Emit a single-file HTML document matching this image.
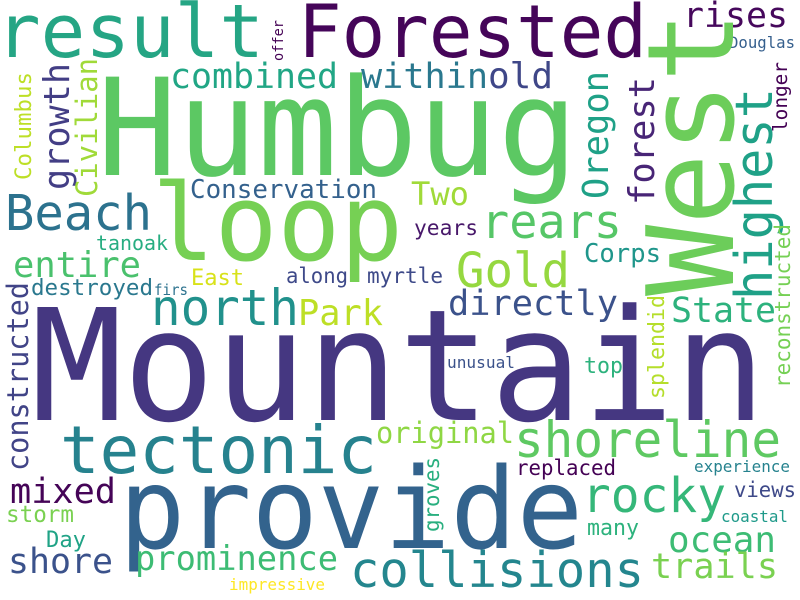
<!DOCTYPE html>
<html><head><meta charset="utf-8"><style>
html,body{margin:0;padding:0;background:#fff;}
svg{display:block;}
text{font-family:"DejaVu Sans Mono","Liberation Mono",monospace;}
</style></head><body>
<svg width="800" height="600" viewBox="0 0 800 600">
<rect width="800" height="600" fill="#fff"/>
<text x="-4" y="57" font-size="74" textLength="268" lengthAdjust="spacingAndGlyphs" fill="#25a584">result</text>
<text x="298" y="57" font-size="73" textLength="349" lengthAdjust="spacingAndGlyphs" fill="#450559">Forested</text>
<text x="97" y="175" font-size="135" textLength="481" lengthAdjust="spacingAndGlyphs" fill="#5cc863">Humbug</text>
<text x="152" y="260" font-size="106" textLength="251" lengthAdjust="spacingAndGlyphs" fill="#76d054">loop</text>
<text x="31" y="420" font-size="155" textLength="735" lengthAdjust="spacingAndGlyphs" fill="#453781">Mountain</text>
<text x="119" y="548" font-size="112" textLength="464" lengthAdjust="spacingAndGlyphs" fill="#33638d">provide</text>
<text x="60" y="473" font-size="66" textLength="317" lengthAdjust="spacingAndGlyphs" fill="#26828e">tectonic</text>
<text x="350" y="587" font-size="49" textLength="294" lengthAdjust="spacingAndGlyphs" fill="#24868e">collisions</text>
<text x="514" y="457" font-size="50" textLength="267" lengthAdjust="spacingAndGlyphs" fill="#5ec962">shoreline</text>
<text x="582" y="512" font-size="48" textLength="144" lengthAdjust="spacingAndGlyphs" fill="#35b779">rocky</text>
<text x="668" y="552" font-size="36" textLength="108" lengthAdjust="spacingAndGlyphs" fill="#3dbc74">ocean</text>
<text x="651" y="578" font-size="35" textLength="127" lengthAdjust="spacingAndGlyphs" fill="#7ad151">trails</text>
<text x="135" y="570" font-size="34" textLength="203" lengthAdjust="spacingAndGlyphs" fill="#3dbc74">prominence</text>
<text x="8" y="573" font-size="35" textLength="105" lengthAdjust="spacingAndGlyphs" fill="#3b528b">shore</text>
<text x="229" y="590" font-size="16" textLength="96" lengthAdjust="spacingAndGlyphs" fill="#fde725">impressive</text>
<text x="46" y="547" font-size="22" textLength="40" lengthAdjust="spacingAndGlyphs" fill="#20a386">Day</text>
<text x="6" y="522" font-size="23" textLength="68" lengthAdjust="spacingAndGlyphs" fill="#7ad151">storm</text>
<text x="10" y="503" font-size="35" textLength="106" lengthAdjust="spacingAndGlyphs" fill="#450457">mixed</text>
<text x="376" y="443" font-size="29" textLength="138" lengthAdjust="spacingAndGlyphs" fill="#8fd744">original</text>
<text x="516" y="475" font-size="21" textLength="100" lengthAdjust="spacingAndGlyphs" fill="#440154">replaced</text>
<text x="694" y="472" font-size="16" textLength="96" lengthAdjust="spacingAndGlyphs" fill="#26828e">experience</text>
<text x="734" y="497" font-size="21" textLength="62" lengthAdjust="spacingAndGlyphs" fill="#3e4989">views</text>
<text x="721" y="522" font-size="16" textLength="67" lengthAdjust="spacingAndGlyphs" fill="#1f9a8a">coastal</text>
<text x="587" y="535" font-size="22" textLength="52" lengthAdjust="spacingAndGlyphs" fill="#2db27d">many</text>
<text x="447" y="368" font-size="16" textLength="68" lengthAdjust="spacingAndGlyphs" fill="#3b528b">unusual</text>
<text x="584" y="373" font-size="22" textLength="39" lengthAdjust="spacingAndGlyphs" fill="#2db27d">top</text>
<text x="448" y="315" font-size="35" textLength="170" lengthAdjust="spacingAndGlyphs" fill="#3b528b">directly</text>
<text x="671" y="322" font-size="35" textLength="105" lengthAdjust="spacingAndGlyphs" fill="#2db27d">State</text>
<text x="151" y="325" font-size="50" textLength="148" lengthAdjust="spacingAndGlyphs" fill="#21918c">north</text>
<text x="298" y="325" font-size="36" textLength="85" lengthAdjust="spacingAndGlyphs" fill="#bddf26">Park</text>
<text x="5" y="230" font-size="49" textLength="147" lengthAdjust="spacingAndGlyphs" fill="#2c728e">Beach</text>
<text x="96" y="250" font-size="20" textLength="72" lengthAdjust="spacingAndGlyphs" fill="#27ad81">tanoak</text>
<text x="13" y="277" font-size="36" textLength="128" lengthAdjust="spacingAndGlyphs" fill="#4ac16d">entire</text>
<text x="191" y="285" font-size="22" textLength="53" lengthAdjust="spacingAndGlyphs" fill="#d8e219">East</text>
<text x="286" y="283" font-size="21" textLength="62" lengthAdjust="spacingAndGlyphs" fill="#3e4989">along</text>
<text x="367" y="283" font-size="21" textLength="76" lengthAdjust="spacingAndGlyphs" fill="#3e4a89">myrtle</text>
<text x="31" y="295" font-size="22.5" textLength="122" lengthAdjust="spacingAndGlyphs" fill="#2a788e">destroyed</text>
<text x="154" y="295" font-size="15" textLength="34" lengthAdjust="spacingAndGlyphs" fill="#2c728e">firs</text>
<text x="190" y="198" font-size="26" textLength="187" lengthAdjust="spacingAndGlyphs" fill="#34618d">Conservation</text>
<text x="170" y="88" font-size="35" textLength="168" lengthAdjust="spacingAndGlyphs" fill="#21a685">combined</text>
<text x="361" y="88" font-size="35" textLength="127" lengthAdjust="spacingAndGlyphs" fill="#2a788e">within</text>
<text x="488" y="88" font-size="36" textLength="65" lengthAdjust="spacingAndGlyphs" fill="#3f4788">old</text>
<text x="411" y="205" font-size="32" textLength="58" lengthAdjust="spacingAndGlyphs" fill="#a0da39">Two</text>
<text x="481" y="238" font-size="47" textLength="141" lengthAdjust="spacingAndGlyphs" fill="#56c667">rears</text>
<text x="456" y="287" font-size="48" textLength="114" lengthAdjust="spacingAndGlyphs" fill="#95d840">Gold</text>
<text x="414" y="235" font-size="21" textLength="64" lengthAdjust="spacingAndGlyphs" fill="#48186a">years</text>
<text x="584" y="262" font-size="26" textLength="77" lengthAdjust="spacingAndGlyphs" fill="#1f968b">Corps</text>
<text x="683" y="27" font-size="35" textLength="105" lengthAdjust="spacingAndGlyphs" fill="#46085c">rises</text>
<text x="729" y="48" font-size="16" textLength="66" lengthAdjust="spacingAndGlyphs" fill="#355f8d">Douglas</text>
<!-- rotated words -->
<text x="733" y="296" font-size="120" textLength="285" lengthAdjust="spacingAndGlyphs" fill="#6ccd5a" transform="rotate(-90 733 296)">West</text>
<text x="772" y="300" font-size="52" textLength="212" lengthAdjust="spacingAndGlyphs" fill="#1fa187" transform="rotate(-90 772 300)">highest</text>
<text x="283" y="61" font-size="14" textLength="41" lengthAdjust="spacingAndGlyphs" fill="#440154" transform="rotate(-90 283 61)">offer</text>
<text x="69" y="190" font-size="36" textLength="127" lengthAdjust="spacingAndGlyphs" fill="#433e85" transform="rotate(-90 69 190)">growth</text>
<text x="97" y="197" font-size="29" textLength="139" lengthAdjust="spacingAndGlyphs" fill="#a0da39" transform="rotate(-90 97 197)">Civilian</text>
<text x="31" y="180" font-size="22.5" textLength="108" lengthAdjust="spacingAndGlyphs" fill="#bddf26" transform="rotate(-90 31 180)">Columbus</text>
<text x="28" y="471" font-size="29" textLength="189" lengthAdjust="spacingAndGlyphs" fill="#414487" transform="rotate(-90 28 471)">constructed</text>
<text x="608" y="199" font-size="36" textLength="128" lengthAdjust="spacingAndGlyphs" fill="#1fa187" transform="rotate(-90 608 199)">Oregon</text>
<text x="654" y="205" font-size="36" textLength="128" lengthAdjust="spacingAndGlyphs" fill="#482576" transform="rotate(-90 654 205)">forest</text>
<text x="787" y="132" font-size="19.5" textLength="70" lengthAdjust="spacingAndGlyphs" fill="#440154" transform="rotate(-90 787 132)">longer</text>
<text x="790" y="388" font-size="21" textLength="164" lengthAdjust="spacingAndGlyphs" fill="#75d054" transform="rotate(-90 790 388)">reconstructed</text>
<text x="664" y="399" font-size="22" textLength="104" lengthAdjust="spacingAndGlyphs" fill="#b5de2b" transform="rotate(-90 664 399)">splendid</text>
<text x="439" y="532" font-size="21" textLength="75" lengthAdjust="spacingAndGlyphs" fill="#29af7f" transform="rotate(-90 439 532)">groves</text>
</svg>
</body></html>
